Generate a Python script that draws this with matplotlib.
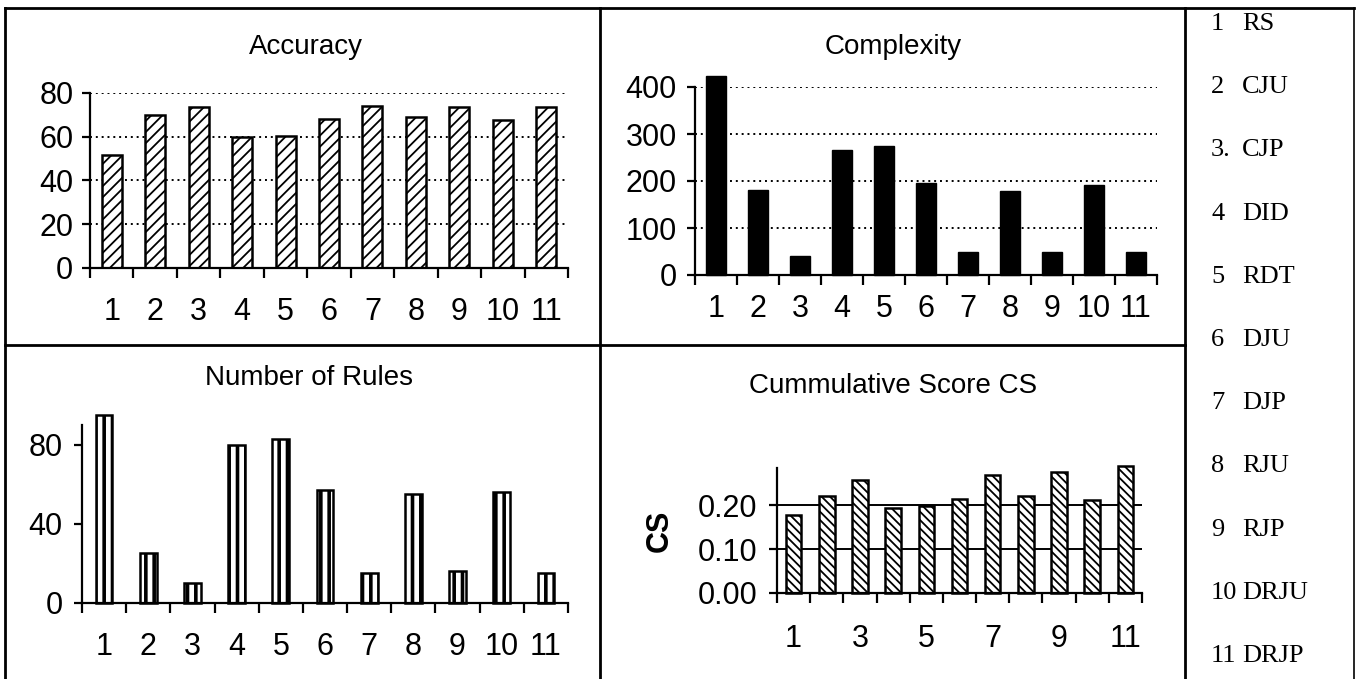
import matplotlib
matplotlib.use("Agg")
import matplotlib.pyplot as plt
import numpy as np
from matplotlib.lines import Line2D

# ---------------- data ----------------
categories = ["1", "2", "3", "4", "5", "6", "7", "8", "9", "10", "11"]
accuracy = [51.5, 70, 73.5, 60, 60.5, 68, 74, 69, 73.5, 67.5, 73.5]
complexity = [424, 181, 41, 266, 274, 196, 48, 179, 48, 191, 48]
num_rules = [95, 25.5, 10, 80, 83, 57, 15, 55, 16, 56, 15]
cs_score = [0.178, 0.221, 0.258, 0.194, 0.198, 0.215, 0.269, 0.222, 0.275, 0.213, 0.290]
cs_tick_labels = ["1", "", "3", "", "5", "", "7", "", "9", "", "11"]
legend_nums = ["1", "2", "3.", "4", "5", "6", "7", "8", "9", "10", "11"]
legend_names = ["RS", "CJU", "CJP", "DID", "RDT", "DJU", "DJP", "RJU", "RJP", "DRJU", "DRJP"]

W, H = 1356, 679
plt.rcParams["font.family"] = ["Liberation Sans", "DejaVu Sans"]
plt.rcParams["hatch.linewidth"] = 1.3
fig = plt.figure(figsize=(W / 100, H / 100), dpi=100)
fig.patch.set_facecolor("white")

FS = 22
TFS = 20


def px_rect(l, r, top, bot):
    return [l / W, 1 - bot / H, (r - l) / W, (bot - top) / H]


def setup(ax, xlabels, ylim, yticks, ylabels, ypad, xpad):
    n = len(categories)
    ax.set_xlim(-0.5, n - 0.5)
    ax.set_ylim(*ylim)
    ax.patch.set_alpha(0)
    for s in ["top", "right"]:
        ax.spines[s].set_visible(False)
    for s in ["left", "bottom"]:
        ax.spines[s].set_linewidth(1.6)
    ax.set_xticks(np.arange(n + 1) - 0.5)
    ax.set_xticklabels([])
    ax.tick_params(axis="x", which="major", direction="out", length=7, width=1.6)
    ax.set_xticks(np.arange(n), minor=True)
    ax.set_xticklabels(xlabels, minor=True)
    ax.tick_params(axis="x", which="minor", length=0, pad=xpad, labelsize=FS)
    ax.set_yticks(yticks)
    ax.set_yticklabels(ylabels)
    ax.tick_params(axis="y", direction="out", length=6, width=1.6, pad=ypad, labelsize=FS)
    ax.set_axisbelow(True)


def set_hatch_lw(bars, lw):
    for p in bars.patches:
        if hasattr(p, "set_hatch_linewidth"):
            p.set_hatch_linewidth(lw)


x = np.arange(len(categories))

# Accuracy
ax1 = fig.add_axes(px_rect(90, 568, 93, 268))
b1 = ax1.bar(x, accuracy, width=0.46, color="white", edgecolor="black", linewidth=1.8, hatch="///")
set_hatch_lw(b1, 1.3)
setup(ax1, categories, (0, 80), [0, 20, 40, 60, 80], ["0", "20", "40", "60", "80"], 6, 21)
ax1.yaxis.grid(True, linestyle=(0, (1, 2.0)), color="black", linewidth=1.4)
fig.text(306 / W, 1 - 47 / H, "Accuracy", ha="center", va="center", fontsize=TFS)

# Complexity
ax2 = fig.add_axes(px_rect(695, 1157, 87, 275))
ax2.bar(x, complexity, width=0.46, color="black", edgecolor="black", linewidth=1.0, clip_on=False)
setup(ax2, categories, (0, 400), [0, 100, 200, 300, 400], ["0", "100", "200", "300", "400"], 7, 14)
ax2.yaxis.grid(True, linestyle=(0, (1, 2.0)), color="black", linewidth=1.4)
fig.text(893 / W, 1 - 47 / H, "Complexity", ha="center", va="center", fontsize=TFS)

# Number of Rules
ax3 = fig.add_axes(px_rect(82, 568, 425, 603))
b3 = ax3.bar(x, num_rules, width=0.38, color="white", edgecolor="black", linewidth=1.8, hatch="||",
             clip_on=False)
set_hatch_lw(b3, 2.6)
setup(ax3, categories, (0, 90), [0, 40, 80], ["0", "40", "80"], 8, 21)
fig.text(309 / W, 1 - 378 / H, "Number of Rules", ha="center", va="center", fontsize=TFS)

# Cummulative Score CS
ax4 = fig.add_axes(px_rect(777, 1142, 468, 593))
b4 = ax4.bar(x, cs_score, width=0.47, color="white", edgecolor="black", linewidth=1.8, hatch="\\\\\\\\",
             clip_on=False)
set_hatch_lw(b4, 1.3)
setup(ax4, cs_tick_labels, (0, 0.285), [0, 0.1, 0.2], ["0.00", "0.10", "0.20"], 8, 22)
ax4.yaxis.grid(True, linestyle="-", color="black", linewidth=1.4)
ax4.set_ylabel("CS", fontsize=FS, fontweight="bold")
ax4.yaxis.set_label_coords((675 - 777) / (1142 - 777), 0.5)
fig.text(893 / W, 1 - 386 / H, "Cummulative Score CS", ha="center", va="center", fontsize=TFS)

# Legend column
for i, (num, name) in enumerate(zip(legend_nums, legend_names)):
    yy = 24 + i * 63.2
    fig.text(1211 / W, 1 - yy / H, num, ha="left", va="center", fontsize=19,
             family=["Liberation Serif", "DejaVu Serif"])
    fig.text(1242 / W, 1 - yy / H, name, ha="left", va="center", fontsize=19,
             family=["Liberation Serif", "DejaVu Serif"])


# Frame lines
def hline(y, x0, x1, lw=2.0):
    fig.add_artist(Line2D([x0 / W, x1 / W], [1 - y / H, 1 - y / H], color="black", lw=lw,
                          transform=fig.transFigure))


def vline(xx, y0, y1, lw=2.0):
    fig.add_artist(Line2D([xx / W, xx / W], [1 - y0 / H, 1 - y1 / H], color="black", lw=lw,
                          transform=fig.transFigure))


hline(8, 5, 1354)
hline(345, 5, 1185)
vline(5, 8, 679)
vline(600, 8, 679)
vline(1185, 8, 679)
vline(1354, 8, 679, lw=1.2)

fig.savefig("out.png", dpi=100, facecolor="white")
